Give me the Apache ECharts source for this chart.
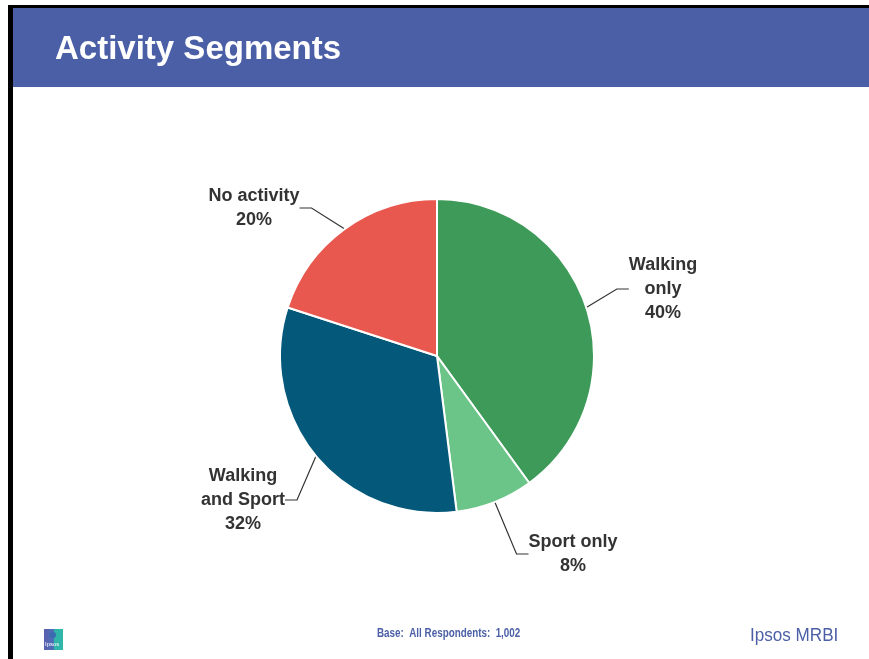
<!DOCTYPE html>
<html>
<head>
<meta charset="utf-8">
<title>Activity Segments</title>
<script src="https://cdn.jsdelivr.net/npm/echarts@6/dist/echarts.min.js"></script>
<style>
  html, body { margin: 0; padding: 0; background: #ffffff; }
  #chart { width: 869px; height: 659px; }
</style>
</head>
<body>
<div id="chart"></div>
<script>
// Segment names (line breaks as shown on the slide) and their shares in percent
const segments = ['Walking\nonly', 'Sport only', 'Walking\nand Sport', 'No activity'];
const shares = [40, 8, 32, 20];
const segmentColors = ['#3d9a58', '#6cc588', '#04587a', '#e9584f'];

// Where each label block sits (centre of the text block)
const labelSpots = [[663, 289], [573, 554], [243, 500], [254, 208]];

const title = 'Activity Segments';
const baseNote = 'Base:  All Respondents:  1,002';
const brand = 'Ipsos MRBI';

const chart = echarts.init(document.getElementById('chart'), null, { renderer: 'canvas' });

chart.setOption({
  backgroundColor: '#ffffff',
  animation: false,
  graphic: [
    // frame: black top rule and left rule
    { type: 'rect', shape: { x: 8, y: 5, width: 861, height: 3 }, style: { fill: '#000000' } },
    { type: 'rect', shape: { x: 8, y: 5, width: 5, height: 654 }, style: { fill: '#000000' } },
    // title bar
    { type: 'rect', shape: { x: 13, y: 8, width: 856, height: 79 }, style: { fill: '#4b5fa6' } },
    {
      type: 'text', x: 55, y: 33,
      style: { text: title, fill: '#ffffff', font: 'bold 33px "Liberation Sans", Arial, sans-serif' }
    },
    // footer note, condensed horizontally
    {
      type: 'text', x: 377, y: 628, scaleX: 0.82, originX: 0,
      style: { text: baseNote, fill: '#4b5fa6', font: 'bold 12px "Liberation Sans", Arial, sans-serif' }
    },
    // brand name
    {
      type: 'text', x: 750, y: 627, scaleX: 0.95, originX: 0,
      style: { text: brand, fill: '#4b5fa6', font: '18px "Liberation Sans", Arial, sans-serif' }
    },
    // small logo tile
    {
      type: 'rect', shape: { x: 44, y: 629, width: 19, height: 21 },
      style: {
        fill: new echarts.graphic.LinearGradient(0, 0, 1, 0, [
          { offset: 0, color: '#5b5fb0' },
          { offset: 0.5, color: '#4a6fb4' },
          { offset: 0.55, color: '#2fb3aa' },
          { offset: 1, color: '#30b7ab' }
        ])
      }
    },
    { type: 'circle', shape: { cx: 53, cy: 635, r: 3 }, style: { fill: '#3a6ab0' } },
    {
      type: 'text', x: 45, y: 641,
      style: { text: 'Ipsos', fill: '#ffffff', font: '6px "Liberation Sans", Arial, sans-serif' }
    }
  ],
  series: [{
    type: 'pie',
    center: [437, 356],
    radius: 157,
    startAngle: 90,
    clockwise: true,
    avoidLabelOverlap: false,
    itemStyle: { borderColor: '#ffffff', borderWidth: 2 },
    label: {
      show: true,
      position: 'outside',
      formatter: p => p.name + '\n' + p.value + '%',
      color: '#333333',
      fontFamily: '"Liberation Sans", Arial, sans-serif',
      fontWeight: 'bold',
      fontSize: 18,
      lineHeight: 24,
      align: 'center'
    },
    labelLine: {
      show: true,
      length: 15,
      length2: 12,
      lineStyle: { color: '#333333', width: 1.2 }
    },
    labelLayout: params => {
      const spot = labelSpots[params.dataIndex];
      return { x: spot[0], y: spot[1], align: 'center', verticalAlign: 'middle' };
    },
    emphasis: { disabled: true },
    data: segments.map((name, i) => ({
      name: name,
      value: shares[i],
      itemStyle: { color: segmentColors[i] }
    }))
  }]
});
</script>
</body>
</html>
